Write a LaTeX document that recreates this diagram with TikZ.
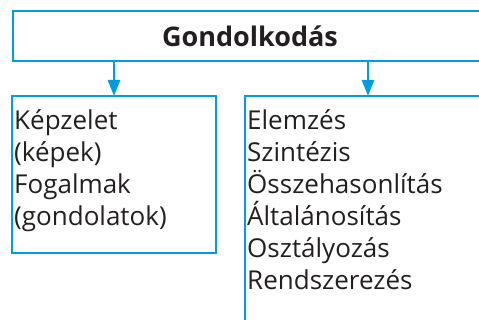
\documentclass[tikz,border=0pt]{standalone}
\usepackage{fontspec}
\setmainfont{Open Sans}
\usetikzlibrary{positioning,arrows.meta,calc}
\definecolor{chartblue}{RGB}{0,158,224}
\definecolor{inkgray}{RGB}{35,31,32}

\tikzset{
  headbox/.style={draw=chartblue, line width=2.8pt, outer sep=0pt,
    minimum width=474pt, minimum height=50pt, text=inkgray,
    font=\bfseries\fontsize{27}{32}\selectfont},
  listframe/.style={draw=chartblue, line width=2.8pt, outer sep=0pt,
    anchor=north west},
  listtext/.style={anchor=north west, align=left, inner sep=0pt,
    text=inkgray, font=\fontsize{26}{32}\selectfont},
  flow/.style={-{Triangle[width=12pt,length=16pt]}, draw=chartblue,
    line width=2.8pt}
}

\begin{document}
\begin{tikzpicture}[x=1pt,y=-1pt]

\useasboundingbox (0,0) rectangle (479,320);
\clip (0,0) rectangle (479,320);

% Top box
\node[headbox] (think) at (250,36) {Gondolkodás};

% Left box: images and concepts
\node[listframe, minimum width=204pt, minimum height=157pt] (leftframe) at (12,96) {};
\node[listtext] (lefttext) at (14,109) {Képzelet\\(képek)\\Fogalmak\\(gondolatok)};

% Right box: operations (runs past the edges)
\node[listframe, minimum width=246pt, minimum height=260pt] (rightframe) at (245,96) {};
\node[listtext] (righttext) at (247,109) {Elemzés\\Szintézis\\Összehasonlítás\\Általánosítás\\Osztályozás\\Rendszerezés};

% Arrows
\draw[flow] (think.south -| leftframe.north) -- (leftframe.north);
\draw[flow] (think.south -| rightframe.north) -- (rightframe.north);

\end{tikzpicture}
\end{document}
